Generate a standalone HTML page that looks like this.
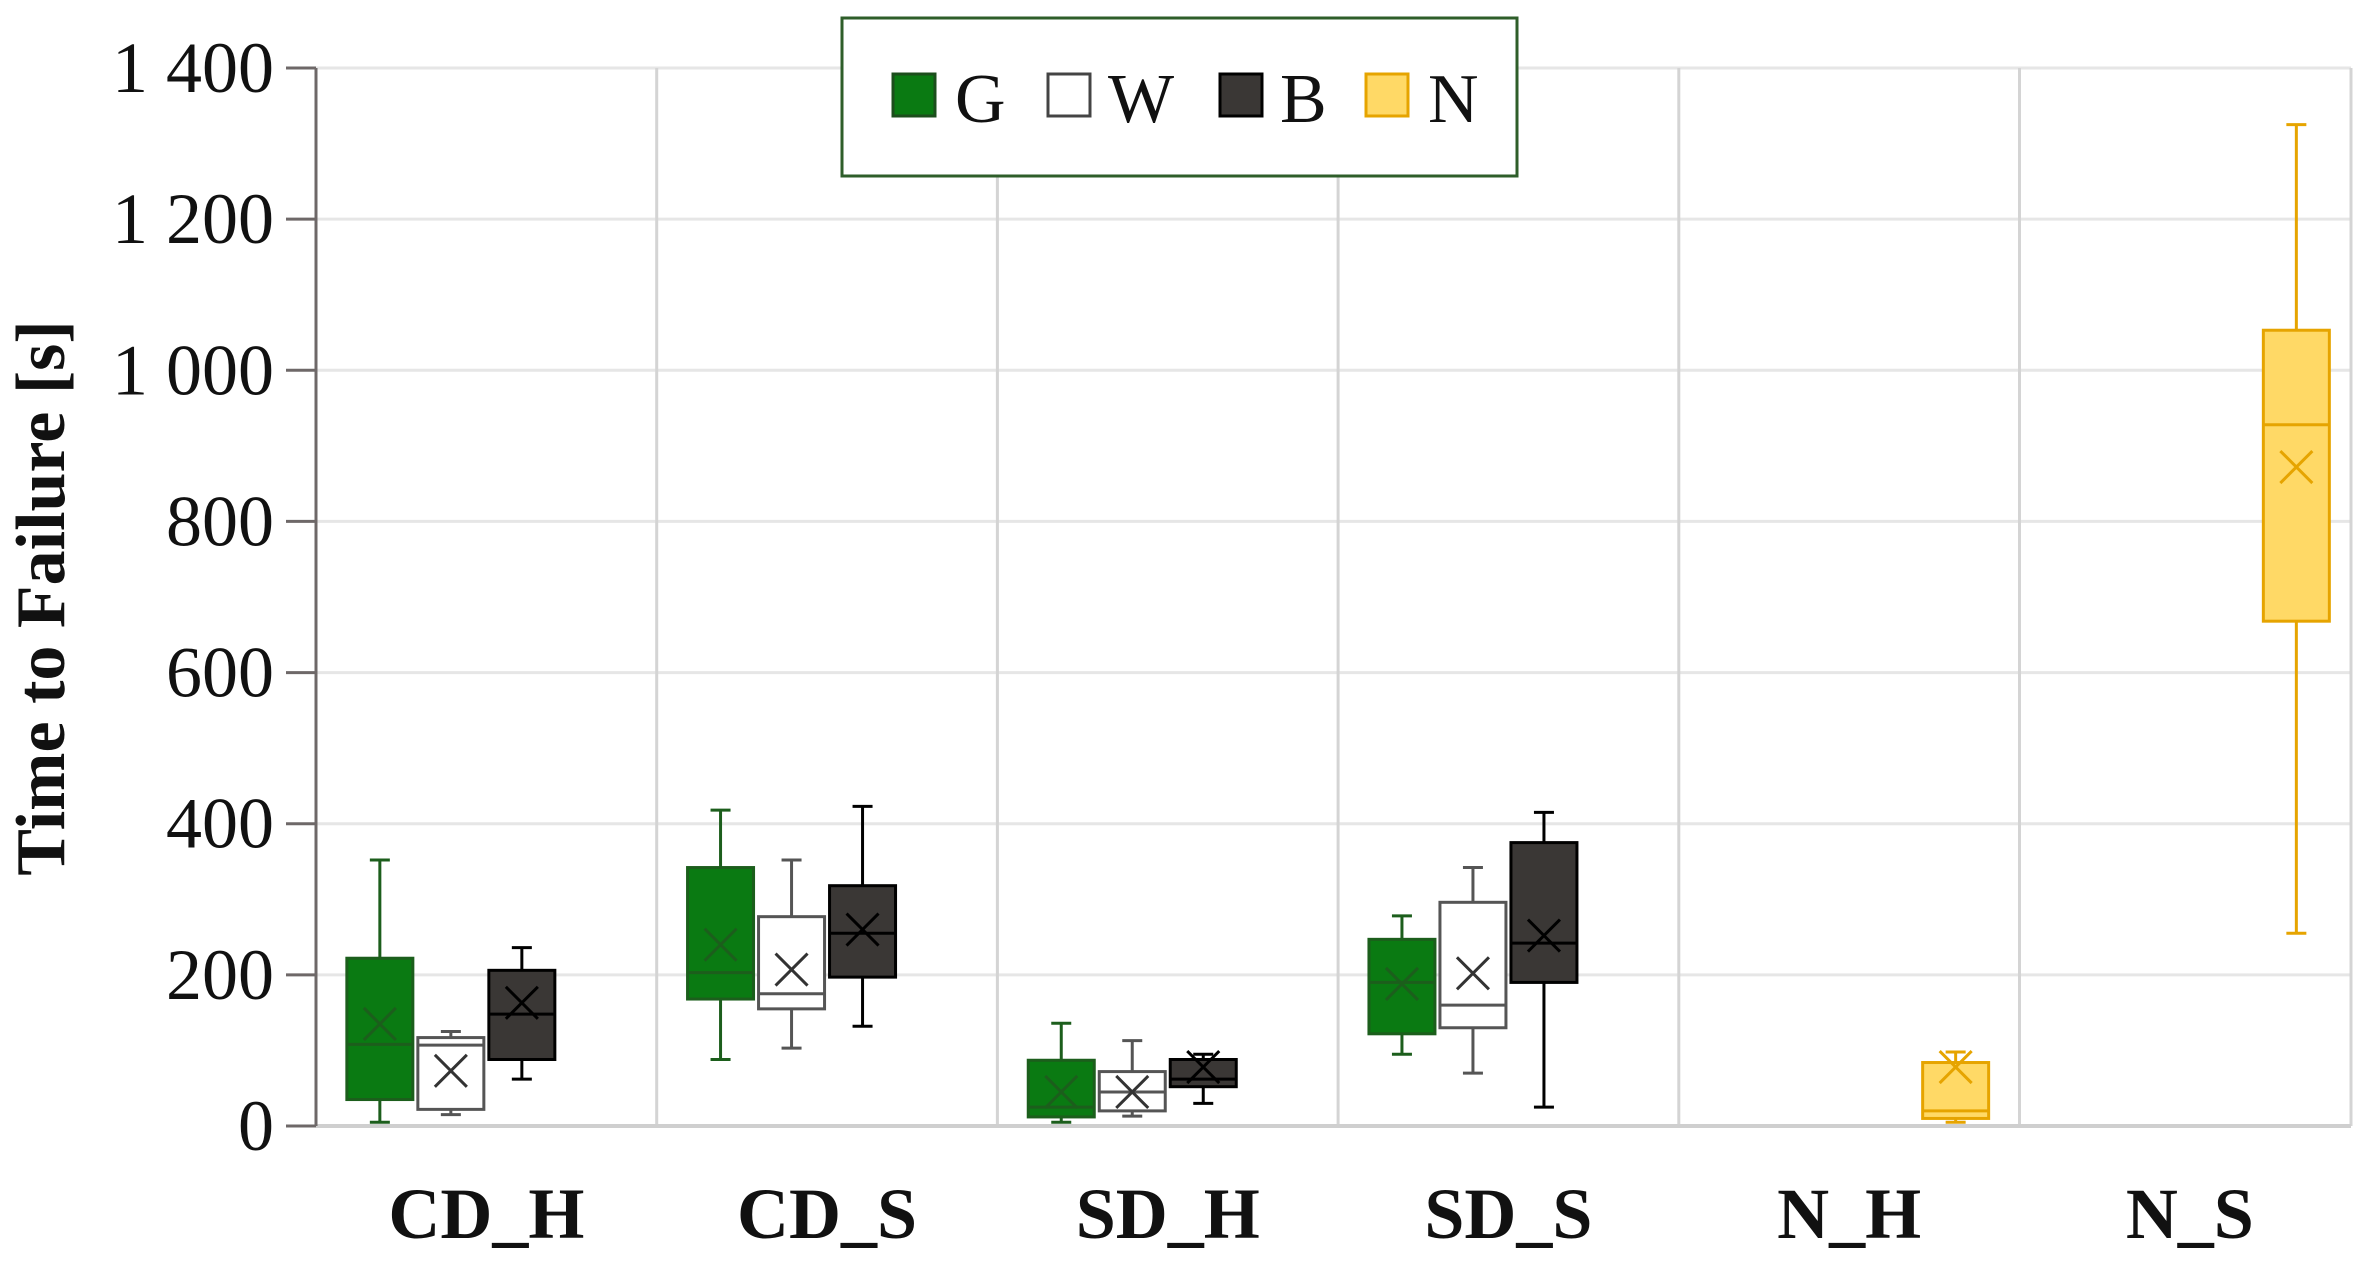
<!DOCTYPE html>
<html><head><meta charset="utf-8"><style>
body{margin:0;background:#fff;}
svg{display:block;font-family:"Liberation Serif",serif;}
</style></head><body>
<svg id="chart" width="2374" height="1270" viewBox="0 0 2374 1270">
<g id="grid"></g>
<g id="axes"></g>
<g id="boxes"></g>
<text x="64" y="598" transform="rotate(-90 64 598)" text-anchor="middle" font-size="70" font-weight="bold" fill="#111">Time to Failure [s]</text>
<g>
<rect x="842" y="18" width="675" height="158" fill="#fff" stroke="#2e5e2a" stroke-width="3"/>
<g><rect x="893" y="74" width="42" height="42" fill="#0a7a12" stroke="#1c4e1c" stroke-width="3"/><text x="955" y="122" font-size="70" fill="#111">G</text></g>
<g><rect x="1048" y="74" width="42" height="42" fill="#fff" stroke="#444" stroke-width="3"/><text x="1108" y="122" font-size="70" fill="#111">W</text></g>
<g><rect x="1220" y="74" width="42" height="42" fill="#3a3735" stroke="#000" stroke-width="3"/><text x="1280" y="122" font-size="70" fill="#111">B</text></g>
<g><rect x="1366" y="74" width="42" height="42" fill="#ffd966" stroke="#e6a400" stroke-width="3"/><text x="1428" y="122" font-size="70" fill="#111">N</text></g>
</g>
</svg>
<script>
const categories=["CD_H","CD_S","SD_H","SD_S","N_H","N_S"];
const yTicks=[0,200,400,600,800,1000,1200,1400];
const yTickLabels=["0","200","400","600","800","1 000","1 200","1 400"];
const seriesNames=["G","W","B","N"];
// each entry: [category index, series index, min, q1, median, q3, max, mean]
const statsG=[[0,0,5,35,108,222,352,135],[1,0,88,168,203,342,418,240],[2,0,5,12,25,87,136,45],[3,0,95,122,190,247,278,188]];
const statsW=[[0,1,15,22,107,117,125,73],[1,1,103,155,175,277,352,207],[2,1,13,20,45,72,113,45],[3,1,70,130,160,296,342,202]];
const statsB=[[0,2,62,88,148,206,236,163],[1,2,132,197,255,318,423,260],[2,2,30,52,62,88,95,78],[3,2,25,190,242,375,415,252]];
const statsN=[[4,3,5,10,20,84,98,78],[5,3,255,668,928,1053,1325,872]];

const NS="http://www.w3.org/2000/svg";
const X0=316,X1=2351,Y0=1126,Ytop=68,YMAX=1400;
const catW=340.7;
const yS=v=>Y0-(v/YMAX)*(Y0-Ytop);
const slotX=(c,s)=>X0+catW*(c+0.5)+(s-1.5)*71;
const styles=[{f:"#0a7a12",s:"#1c5e1c",m:"#1c5e1c"},{f:"#fff",s:"#555",m:"#333"},{f:"#3a3735",s:"#000",m:"#000"},{f:"#ffd966",s:"#e6a400",m:"#e6a400"}];
function mk(tag,attrs,parent){const e=document.createElementNS(NS,tag);for(const k in attrs)e.setAttribute(k,attrs[k]);parent.appendChild(e);return e;}
const grid=document.getElementById("grid"),axes=document.getElementById("axes"),boxes=document.getElementById("boxes");
yTicks.forEach((t,i)=>{
  if(t>0){const l=mk("line",{x1:X0,x2:X1,y1:yS(t),y2:yS(t),stroke:"#e6e6e6","stroke-width":3},grid);
  
  }
  const tk=mk("line",{x1:X0-30,x2:X0,y1:yS(t),y2:yS(t),stroke:"#6e6868","stroke-width":3},axes);
  
  
  const tx=mk("text",{x:X0-42,y:yS(t)+24,"text-anchor":"end","font-size":"72",fill:"#111"},axes);
  tx.textContent=yTickLabels[i];
  
  
});
for(let c=1;c<categories.length;c++){
  const l=mk("line",{x1:X0+catW*c,x2:X0+catW*c,y1:Ytop,y2:Y0,stroke:"#d4d4d4","stroke-width":3},grid);
  
  
}
const rl=mk("line",{x1:X1,x2:X1,y1:Ytop,y2:Y0,stroke:"#d4d4d4","stroke-width":3},grid);


const bl=mk("line",{x1:X0,x2:X1,y1:Y0,y2:Y0,stroke:"#cfcfcf","stroke-width":4},axes);


const al=mk("line",{x1:X0,x2:X0,y1:Ytop,y2:Y0,stroke:"#6e6868","stroke-width":3},axes);


categories.forEach((c,i)=>{
  const t=mk("text",{x:X0+catW*(i+0.5),y:1238,"text-anchor":"middle","font-size":"72","font-weight":"bold",fill:"#111"},axes);
  t.textContent=c;
  
  
});
const BW=66,CAP=20;
[statsG,statsW,statsB,statsN].forEach(arr=>arr.forEach(d=>{
  const [c,s,mn,q1,md,q3,mx,mean]=d;const st=styles[s];const cx=slotX(c,s);
  const g=mk("g",{},boxes);
  
  
  const sw=3;
  mk("line",{x1:cx,x2:cx,y1:yS(mx),y2:yS(q3),stroke:st.s,"stroke-width":sw},g);
  mk("line",{x1:cx,x2:cx,y1:yS(q1),y2:yS(mn),stroke:st.s,"stroke-width":sw},g);
  mk("line",{x1:cx-CAP/2,x2:cx+CAP/2,y1:yS(mx),y2:yS(mx),stroke:st.s,"stroke-width":sw},g);
  mk("line",{x1:cx-CAP/2,x2:cx+CAP/2,y1:yS(mn),y2:yS(mn),stroke:st.s,"stroke-width":sw},g);
  mk("rect",{x:cx-BW/2,y:yS(q3),width:BW,height:yS(q1)-yS(q3),fill:st.f,stroke:st.s,"stroke-width":sw},g);
  mk("line",{x1:cx-BW/2,x2:cx+BW/2,y1:yS(md),y2:yS(md),stroke:st.s,"stroke-width":sw},g);
  const m=16,my=yS(mean);
  mk("path",{d:`M${cx-m} ${my-m}L${cx+m} ${my+m}M${cx+m} ${my-m}L${cx-m} ${my+m}`,stroke:st.m,"stroke-width":3,fill:"none"},g);
}));
</script>
</body></html>
